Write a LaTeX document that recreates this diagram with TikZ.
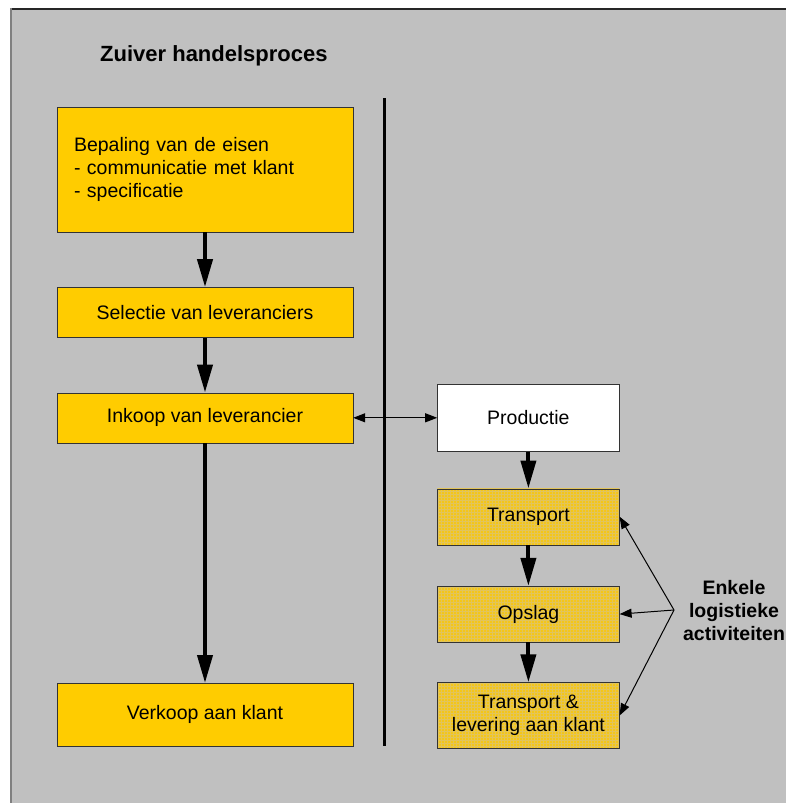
\documentclass[tikz,border=0pt]{standalone}
\usepackage{fontspec}
\setmainfont{Liberation Sans}
\usetikzlibrary{positioning,arrows.meta,patterns}
\definecolor{achtergrond}{RGB}{192,192,192}
\definecolor{geel}{RGB}{255,204,0}
\definecolor{geelraster}{RGB}{244,198,24}
\definecolor{rasterlijn}{RGB}{226,196,90}
\begin{document}
\begin{tikzpicture}[
    x=1pt,y=-1pt,
    stap/.style={draw=black!80, fill=geel, minimum width=296pt, minimum height=50pt,
      font=\fontsize{19.5}{23}\selectfont},
    logistiek/.style={draw=black!80, preaction={fill=geelraster}, pattern=grid, pattern color=rasterlijn,
      minimum width=182pt, minimum height=56pt, align=center, font=\fontsize{19.5}{23}\selectfont},
    dik/.style={line width=4pt, -{Triangle[length=28pt,width=15pt]}},
    dun/.style={line width=1pt, -{Triangle[length=12pt,width=9pt]}}
    ]
  \useasboundingbox (0,0) rectangle (786,803);
  \fill[achtergrond] (10,8) rectangle (786,803);
  \draw[black!85, line width=1.5pt] (10,9) -- (786,9);
  \draw[black!50, line width=2pt] (11,8) -- (11,803);

  \node[anchor=base west, inner sep=0pt, font=\fontsize{22}{26}\selectfont\bfseries] (titel) at (100,61) {Zuiver handelsproces};

  % linkerkolom
  \node[stap, minimum height=125pt, text width=262pt, inner xsep=17pt, align=left] (eisen) at (205,169.5)
    {Bepaling van de eisen\\- communicatie met klant\\- specificatie};
  \node[stap, below=55pt of eisen] (selectie) {Selectie van leveranciers};
  \node[stap, below=55pt of selectie] (inkoop) {Inkoop van leverancier};
  \node[stap, below=240pt of inkoop, minimum height=63pt] (verkoop) {Verkoop aan klant};

  % rechterkolom
  \node[draw=black!80, fill=white, minimum width=182pt, minimum height=67pt,
    font=\fontsize{19.5}{23}\selectfont, right=84pt of inkoop] (productie) {Productie};
  \node[logistiek, below=37pt of productie] (transport) {Transport};
  \node[logistiek, below=41pt of transport] (opslag) {Opslag};
  \node[logistiek, below=40pt of opslag, minimum height=66pt] (levering) {Transport \&\\levering aan klant};

  \node[align=center, font=\fontsize{19.5}{23}\selectfont\bfseries] (enkele) at (734,611)
    {Enkele\\logistieke\\activiteiten};
  \coordinate (punt) at (674,610);

  % scheidingslijn
  \coordinate (boven) at (384,98);
  \coordinate (onder) at (384,746);
  \draw[line width=3pt] (boven) -- (onder);

  \draw[dik] (eisen) -- (selectie);
  \draw[dik] (selectie) -- (inkoop);
  \draw[dik] (inkoop) -- (verkoop);
  \draw[dik] (productie) -- (transport);
  \draw[dik] (transport) -- (opslag);
  \draw[dik] (opslag) -- (levering);

  \draw[dun, {Triangle[length=12pt,width=9pt]}-{Triangle[length=12pt,width=9pt]}] (inkoop) -- (productie);
  \draw[dun] (punt) -- (transport.east);
  \draw[dun] (punt) -- (opslag.east);
  \draw[dun] (punt) -- (levering.east);
\end{tikzpicture}
\end{document}
